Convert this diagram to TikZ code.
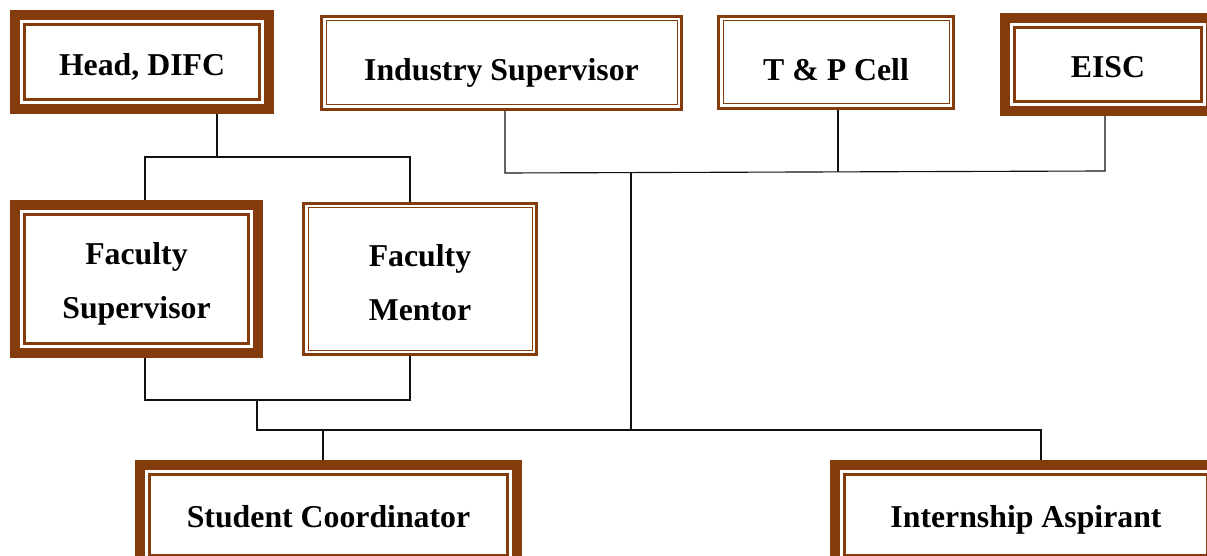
\documentclass[tikz,border=0pt]{standalone}
\usepackage{fontspec}
\setmainfont{Liberation Serif}
\definecolor{frame}{HTML}{843C0C}
\definecolor{rule}{HTML}{111111}
% one unit of the grid below
\def\pix{0.025cm}

\begin{document}
\begin{tikzpicture}[x=0.025cm,y=-0.025cm,
  every node/.style={font=\bfseries\fontsize{22.6}{38.4}\selectfont,
    align=center,inner sep=0pt,text=black},
  boxsize/.style 2 args={minimum width=#1*\pix,minimum height=#2*\pix},
  % fixed text box, so the label sits a little below the middle
  textfit/.style 2 args={text height=#1,text depth=#2},
  heavy/.style={draw=frame,fill=white,line width=10*\pix,
    path picture={\draw[frame,line width=2.5*\pix]
      ([shift={(9.5*\pix,-9.5*\pix)}]path picture bounding box.north west) rectangle
      ([shift={(-9.5*\pix,9.5*\pix)}]path picture bounding box.south east);}},
  light/.style={draw=frame,fill=white,line width=3*\pix,
    path picture={\draw[frame,line width=1*\pix]
      ([shift={(4.5*\pix,-4.5*\pix)}]path picture bounding box.north west) rectangle
      ([shift={(-4.5*\pix,4.5*\pix)}]path picture bounding box.south east);}},
  link/.style={draw=rule,line width=0.8pt}]

\useasboundingbox (0,0) rectangle (1207,556);
\clip (0,0) rectangle (1207,556);

% -------------------------------------------------------------------------
% Boxes.
% -------------------------------------------------------------------------
\node[heavy,boxsize={254}{94},textfit={19pt}{0pt}]    (head) at (142,62)    {Head, DIFC};
\node[light,boxsize={360}{93},textfit={25pt}{0pt}]    (ind)  at (501.5,63)  {Industry Supervisor};
\node[light,boxsize={235}{92},textfit={25.6pt}{0pt}]  (tp)   at (836,62.5)  {T \& P Cell};
\node[heavy,boxsize={206}{93},textfit={18.6pt}{0pt}]  (eisc) at (1108,64.5) {EISC};
\node[heavy,boxsize={243}{148},textfit={56.2pt}{0pt}] (fsup) at (136.5,279) {Faculty\\Supervisor};
\node[light,boxsize={233}{151},textfit={59pt}{0pt}]   (fmen) at (420,279)   {Faculty\\Mentor};
\node[heavy,boxsize={377}{100},textfit={17.6pt}{0pt}] (stud) at (328.5,515) {Student Coordinator};
\node[heavy,boxsize={382}{100},textfit={17.6pt}{0pt}] (asp)  at (1026,515)  {Internship Aspirant};

% -------------------------------------------------------------------------
% Connectors.
% -------------------------------------------------------------------------
% Head, DIFC over the two faculty boxes
\draw[link] (head.south -| 217,0) -- (217,157);
\draw[link] (fsup.north -| 145,0) -- (145,157) -- (410,157) -- (fmen.north -| 410,0);

% industry side bus
\draw[link] (ind.south -| 505,0) -- (505,173) -- (1105,171) -- (eisc.south -| 1105,0);
\draw[link] (tp.south -| 838,0) -- (838,172);
\draw[link] (631,172) -- (631,430);

% faculty boxes down to the lower bus
\draw[link] (fsup.south -| 145,0) -- (145,400) -- (410,400) -- (fmen.south -| 410,0);
\draw[link] (257,400) -- (257,430) -- (1041,430) -- (asp.north -| 1041,0);
\draw[link] (323,430) -- (stud.north -| 323,0);
\end{tikzpicture}
\end{document}
